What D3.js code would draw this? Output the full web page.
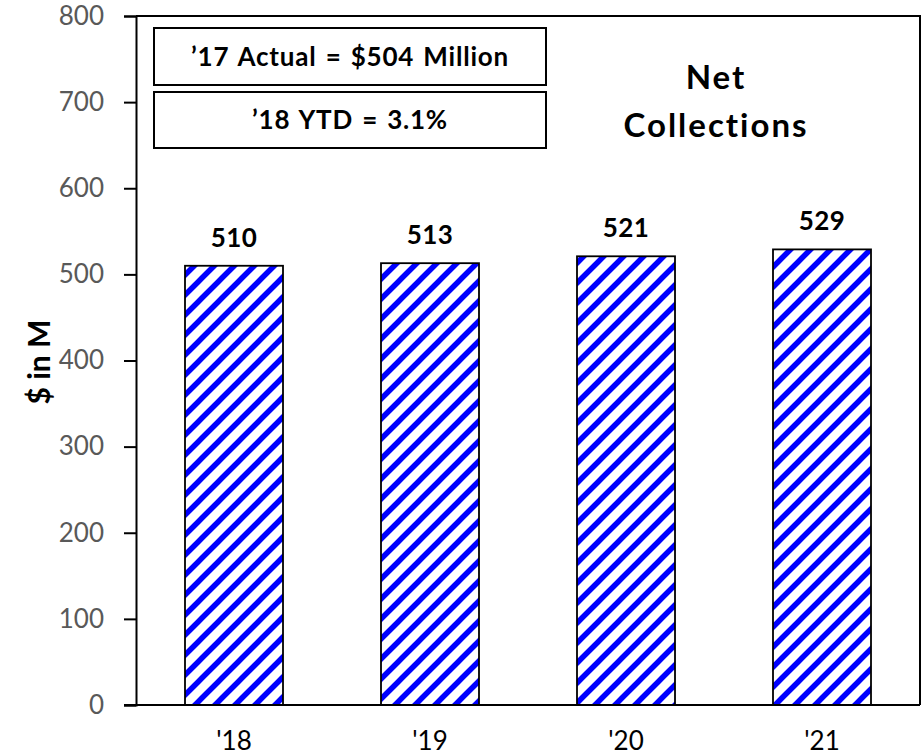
<!DOCTYPE html>
<html>
<head>
<meta charset="utf-8">
<script src="https://cdn.jsdelivr.net/npm/d3@7"></script>
<style>
  html, body { margin: 0; padding: 0; background: #fff; }
  svg { display: block; font-family: Lato, "Open Sans", sans-serif; font-variant-ligatures: none; font-feature-settings: "liga" 0, "clig" 0; }
</style>
</head>
<body>
<svg id="chart" width="923" height="756"></svg>
<script>
// Net collections by year, $ in millions
const categories = ["'18", "'19", "'20", "'21"];
const values = [510, 513, 521, 529];
const yTicks = [0, 100, 200, 300, 400, 500, 600, 700, 800];
const notes = ["\u201917 Actual = $504 Million", "\u201918 YTD = 3.1%"];
const titleLines = ["Net", "Collections"];
const yLabel = "$ in M";

const svg = d3.select("#chart");
const plot = { left: 136, right: 920, top: 16, bottom: 705 };

const x = d3.scaleBand()
  .domain(categories)
  .range([plot.left, plot.right])
  .paddingInner(0.5)
  .paddingOuter(0.25);

const y = d3.scaleLinear()
  .domain([0, 800])
  .range([plot.bottom, plot.top]);

// Diagonal blue hatch fill for the bars
const defs = svg.append("defs");
const pat = defs.append("pattern")
  .attr("id", "hatch")
  .attr("patternUnits", "userSpaceOnUse")
  .attr("width", 20)
  .attr("height", 20);
pat.append("rect").attr("width", 20).attr("height", 20).attr("fill", "#fff");
pat.append("path")
  .attr("d", "M-5,5 L5,-5 M0,20 L20,0 M15,25 L25,15")
  .attr("stroke", "#0000ff")
  .attr("stroke-width", 5.5);

// Plot frame (top and right edges)
svg.append("path")
  .attr("d", `M${plot.left},${plot.top}H${plot.right}V${plot.bottom}`)
  .attr("fill", "none")
  .attr("stroke", "#000")
  .attr("stroke-width", 2);

// Bars
svg.append("g").selectAll("rect")
  .data(values)
  .join("rect")
  .attr("x", (d, i) => x(categories[i]))
  .attr("y", d => y(d))
  .attr("width", x.bandwidth())
  .attr("height", d => y(0) - y(d))
  .attr("fill", "url(#hatch)")
  .attr("stroke", "#000")
  .attr("stroke-width", 1.8);

// Value labels
svg.append("g").selectAll("text")
  .data(values)
  .join("text")
  .attr("x", (d, i) => x(categories[i]) + x.bandwidth() / 2)
  .attr("y", d => y(d) - 19)
  .attr("text-anchor", "middle")
  .attr("font-size", 26)
  .attr("font-weight", "bold")
  .attr("letter-spacing", 0.5)
  .attr("fill", "#000")
  .text(d => d);

// Y axis
const yAxis = d3.axisLeft(y)
  .tickValues(yTicks)
  .tickSize(12)
  .tickPadding(20)
  .tickFormat(d3.format("d"));
const gy = svg.append("g")
  .attr("transform", `translate(${plot.left},0)`)
  .call(yAxis);
gy.select(".domain").attr("stroke", "#000").attr("stroke-width", 2);
gy.selectAll(".tick line").attr("stroke", "#000").attr("stroke-width", 2);
gy.selectAll(".tick text")
  .attr("fill", "#595959")
  .attr("font-size", 26)
  .attr("font-family", "Lato, 'Open Sans', sans-serif");

// X axis
const xAxis = d3.axisBottom(x).tickSize(0).tickPadding(0);
const gx = svg.append("g")
  .attr("transform", `translate(0,${plot.bottom})`)
  .call(xAxis);
gx.select(".domain").remove();
gx.append("line")
  .attr("x1", plot.left - 12)
  .attr("x2", plot.right)
  .attr("stroke", "#000")
  .attr("stroke-width", 2);
gx.selectAll(".tick text")
  .attr("y", 45)
  .attr("dy", null)
  .attr("fill", "#000")
  .attr("font-size", 26)
  .attr("font-family", "Lato, 'Open Sans', sans-serif");

// Y axis title
svg.append("text")
  .attr("transform", "translate(50,362) rotate(-90)")
  .attr("text-anchor", "middle")
  .attr("font-size", 30)
  .attr("font-weight", "bold")
  .attr("fill", "#000")
  .text(yLabel);

// Note boxes
const boxes = [
  { y0: 28, y1: 85 },
  { y0: 92, y1: 148 }
];
const boxX0 = 154, boxX1 = 546;
const gNotes = svg.append("g");
notes.forEach((t, i) => {
  const b = boxes[i];
  gNotes.append("rect")
    .attr("x", boxX0)
    .attr("y", b.y0)
    .attr("width", boxX1 - boxX0)
    .attr("height", b.y1 - b.y0)
    .attr("fill", "#fff")
    .attr("stroke", "#000")
    .attr("stroke-width", 2);
  gNotes.append("text")
    .attr("x", (boxX0 + boxX1) / 2)
    .attr("y", (b.y0 + b.y1) / 2 + 9)
    .attr("text-anchor", "middle")
    .attr("font-size", 26)
    .attr("font-weight", "bold")
    .attr("letter-spacing", 0.8)
    .attr("word-spacing", 2)
    .attr("fill", "#000")
    .text(t);
});

// Chart title
svg.append("g").selectAll("text")
  .data(titleLines)
  .join("text")
  .attr("x", 716)
  .attr("y", (d, i) => 89 + i * 48)
  .attr("text-anchor", "middle")
  .attr("font-size", 33)
  .attr("font-weight", "bold")
  .attr("letter-spacing", 2)
  .attr("fill", "#000")
  .text(d => d);
</script>
</body>
</html>
